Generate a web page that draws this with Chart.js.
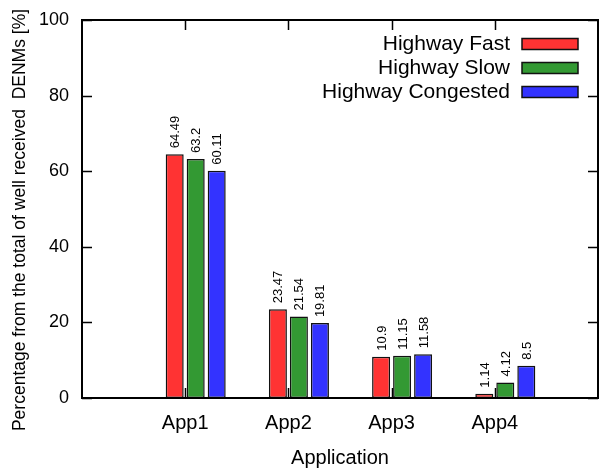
<!DOCTYPE html>
<html>
<head>
<meta charset="utf-8">
<script src="https://cdn.jsdelivr.net/npm/chart.js@4.4.0/dist/chart.umd.min.js"></script>
<style>
    html, body { margin: 0; padding: 0; background: #ffffff; }
</style>
</head>
<body>
<canvas id="myChart" width="600" height="468"></canvas>
<script>
let apps = ['App1', 'App2', 'App3', 'App4'];
let fastDat = [64.49, 23.47, 10.9, 1.14];
let slowDat = [63.2, 21.54, 11.15, 4.12];
let congDat = [60.11, 19.81, 11.58, 8.5];
let seriesNames = ['Highway Fast', 'Highway Slow', 'Highway Congested'];
let yTicks = [0, 20, 40, 60, 80, 100];
let xTitle = 'Application';
let yTitle = 'Percentage from the total of well received  DENMs [%]';

const FONT = '"Liberation Sans", Arial, Helvetica, sans-serif';

// gnuplot style: empty slot at each end of the x range
let labels = [''].concat(apps, ['']);
function pad(arr) { return [null].concat(arr, [null]); }

function tickMarks(chart)
{
    let ctx = chart.ctx;
    let a = chart.chartArea;
    let len = 10;
    ctx.save();
    ctx.strokeStyle = '#000';
    ctx.lineWidth = 1.5;
    ctx.beginPath();
    yTicks.forEach(v => {
        let y = Math.round(chart.scales.y.getPixelForValue(v)) + 0.5;
        ctx.moveTo(a.left, y); ctx.lineTo(a.left + len, y);
        ctx.moveTo(a.right, y); ctx.lineTo(a.right - len, y);
    });
    apps.forEach((name, i) => {
        let x = Math.round(chart.scales.x.getPixelForValue(i + 1)) + 0.5;
        ctx.moveTo(x, a.bottom); ctx.lineTo(x, a.bottom - len);
        ctx.moveTo(x, a.top); ctx.lineTo(x, a.top + len);
    });
    ctx.stroke();
    ctx.restore();
}

const gnuplotLook = {
    id: 'gnuplotLook',
    beforeDatasetsDraw(chart)
    {
        tickMarks(chart);
    },
    afterDatasetsDraw(chart)
    {
        let ctx = chart.ctx;
        let a = chart.chartArea;

        // values over the bars
        ctx.save();
        ctx.font = '13px ' + FONT;
        ctx.fillStyle = '#000';
        ctx.textAlign = 'left';
        ctx.textBaseline = 'middle';
        chart.data.datasets.forEach((ds, di) => {
            if (!ds.label) return;
            chart.getDatasetMeta(di).data.forEach((bar, i) => {
                let v = ds.data[i];
                if (v == null) return;
                ctx.save();
                ctx.translate(bar.x + 1, bar.y - 6);
                ctx.rotate(-Math.PI / 2);
                ctx.fillText(String(v), 0, 0);
                ctx.restore();
            });
        });
        ctx.restore();

        // frame
        ctx.save();
        ctx.strokeStyle = '#000';
        ctx.lineWidth = 2;
        ctx.strokeRect(a.left, a.top, a.right - a.left, a.bottom - a.top);
        ctx.restore();

        // legend, text right aligned and key on the right
        ctx.save();
        ctx.font = '21px ' + FONT;
        ctx.textAlign = 'right';
        ctx.textBaseline = 'middle';
        let row = 0;
        chart.data.datasets.forEach(ds => {
            if (!ds.label) return;
            let cy = a.top + 24 + row * 24;
            ctx.fillStyle = '#000';
            ctx.fillText(ds.label, 510, cy);
            ctx.fillStyle = ds.backgroundColor;
            ctx.fillRect(522, cy - 5.5, 56, 11);
            ctx.strokeStyle = '#111';
            ctx.lineWidth = 1.5;
            ctx.strokeRect(522, cy - 5.5, 56, 11);
            row++;
        });
        ctx.restore();

        // axis titles
        ctx.save();
        ctx.fillStyle = '#000';
        ctx.textAlign = 'center';
        ctx.textBaseline = 'middle';
        ctx.font = '20px ' + FONT;
        ctx.fillText(xTitle, (a.left + a.right) / 2, 458);
        ctx.font = '17.5px ' + FONT;
        ctx.translate(20, 220);
        ctx.rotate(-Math.PI / 2);
        ctx.fillText(yTitle, 0, 0);
        ctx.restore();
    }
};

function createChart()
{
    let barStyle = {
        borderColor: '#111111',
        borderWidth: 1.5,
        borderSkipped: false,
        categoryPercentage: 0.814,
        barPercentage: 0.857
    };

    new Chart(document.getElementById('myChart'),
        {
            type: 'bar',
            data:
            {
                labels: labels,
                datasets: [
                    // empty slot, gives the gnuplot gap in front of each cluster
                    Object.assign({ label: '', data: pad([null, null, null, null]), backgroundColor: 'rgba(0,0,0,0)' }, barStyle),
                    Object.assign({ label: seriesNames[0], data: pad(fastDat), backgroundColor: '#ff3333' }, barStyle),
                    Object.assign({ label: seriesNames[1], data: pad(slowDat), backgroundColor: '#339933' }, barStyle),
                    Object.assign({ label: seriesNames[2], data: pad(congDat), backgroundColor: '#3333ff' }, barStyle)
                ]
            },
            options:
            {
                responsive: false,
                animation: false,
                layout: { padding: { top: 20, right: 2, left: 0, bottom: 0 } },
                plugins: {
                    legend: { display: false },
                    tooltip: { enabled: false }
                },
                scales: {
                    x: {
                        offset: false,
                        grid: { display: false, drawTicks: false },
                        border: { display: false },
                        ticks: {
                            autoSkip: false,
                            maxRotation: 0,
                            padding: 13,
                            color: '#000',
                            font: { size: 20, family: FONT }
                        },
                        afterFit: s => {
                            s.height = 70;
                            s.paddingLeft = 0;
                            s.paddingRight = 0;
                        }
                    },
                    y: {
                        min: 0,
                        max: 100,
                        grid: { display: false, drawTicks: false },
                        border: { display: false },
                        ticks: {
                            stepSize: 20,
                            padding: 13,
                            color: '#000',
                            font: { size: 18, family: FONT }
                        },
                        afterFit: s => {
                            s.width = 82;
                            s.paddingTop = 0;
                            s.paddingBottom = 0;
                        }
                    }
                }
            },
            plugins: [gnuplotLook]
        }
    );
}

createChart();
</script>
</body>
</html>
